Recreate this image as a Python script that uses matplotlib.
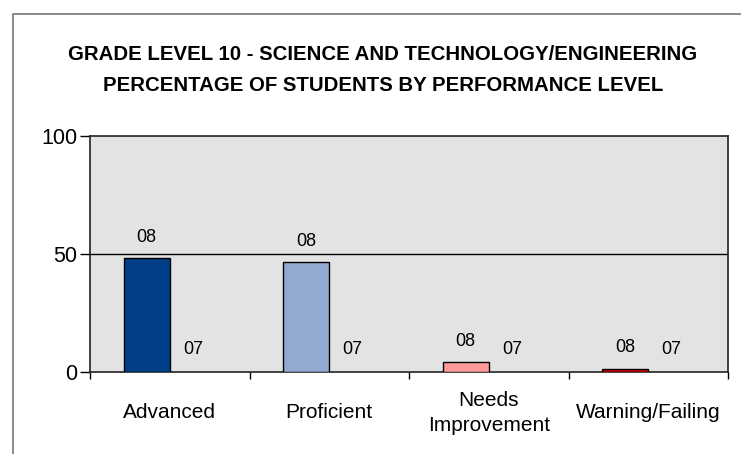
import numpy as np
import matplotlib.pyplot as plt
from matplotlib.patches import Rectangle

plt.rcParams['font.family'] = ['Liberation Sans', 'DejaVu Sans']

CATEGORIES = ['Advanced', 'Proficient', 'Needs\nImprovement', 'Warning/Failing']
PCT_08 = [48.3, 46.5, 4.2, 1.4]
PCT_07 = [0, 0, 0, 0]
BAR_COLORS = ['#003F87', '#93A9CF', '#FF9999', '#D00000']
TITLE = ('GRADE LEVEL 10 - SCIENCE AND TECHNOLOGY/ENGINEERING\n'
         'PERCENTAGE OF STUDENTS BY PERFORMANCE LEVEL')

fig = plt.figure(figsize=(7.41, 4.54), dpi=100)
ax = fig.add_axes([0.1215, 0.1806, 0.861, 0.5198])

# outer chart border (cropped at right/bottom like the original)
fig.patches.append(Rectangle((13 / 741, -0.1), 1.2, 1 - 14 / 454 + 0.1,
                             transform=fig.transFigure, fill=False,
                             edgecolor='#777777', linewidth=1.2))

x = np.arange(len(CATEGORIES))
w = 0.29
ax.set_facecolor('#E3E3E3')
ax.bar(x - w / 2, PCT_08, w, color=BAR_COLORS, edgecolor='black', linewidth=1, zorder=3)
ax.bar(x + w / 2, PCT_07, w, color=BAR_COLORS, edgecolor='none', zorder=3)

for xi, v in zip(x, PCT_08):
    ax.annotate('08', (xi - w / 2, v), xytext=(0, 15), textcoords='offset points',
                ha='center', va='center', fontsize=13)
for xi, v in zip(x, PCT_07):
    ax.annotate('07', (xi + w / 2, v), xytext=(0, 16), textcoords='offset points',
                ha='center', va='center', fontsize=13)

ax.axhline(50, color='black', linewidth=1, zorder=2)
ax.set_xlim(-0.5, len(CATEGORIES) - 0.5)
ax.set_ylim(0, 100)
ax.set_yticks([0, 50, 100])
ax.tick_params(axis='y', labelsize=15.5, length=7, width=1, pad=2)
ax.set_xticks(x)
ax.set_xticklabels(CATEGORIES, fontsize=15, linespacing=1.35, va='center')
ax.tick_params(axis='x', length=0, pad=29.5)
ax.set_xticks(np.arange(-0.5, len(CATEGORIES)), minor=True)
ax.tick_params(axis='x', which='minor', length=5, width=1)
for s in ax.spines.values():
    s.set_color('#222222')
    s.set_linewidth(1.2)

fig.text(383 / 741, 1 - 70 / 454, TITLE, ha='center', va='center',
         fontsize=14.7, fontweight='bold', linespacing=1.75)

fig.savefig('out.png', dpi=100)
